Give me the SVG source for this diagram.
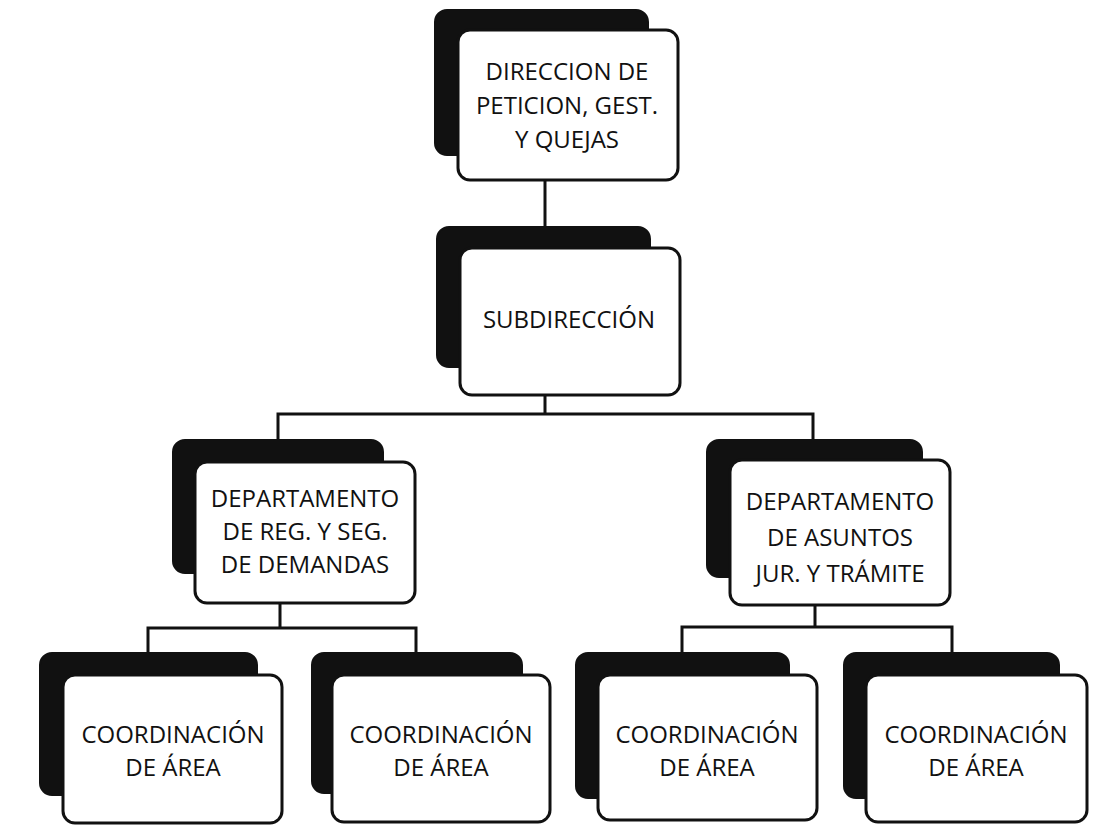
<svg xmlns="http://www.w3.org/2000/svg" width="1113" height="826" viewBox="0 0 1113 826">
<style>
.back{fill:#111;stroke:#111;stroke-width:2}
.front{fill:#fff;stroke:#111;stroke-width:3}
.lbl{font-family:"Open Sans","Liberation Sans",sans-serif;font-size:24px;fill:#111;text-anchor:middle}
.conn{fill:none;stroke:#111;stroke-width:3}
</style>
<rect width="1113" height="826" fill="#fff"/>
<g id="connectors">
<path class="conn" d="M545,180 V248"/>
<path class="conn" d="M545,395 V414 M278,440 V414 H813 V440"/>
<path class="conn" d="M280,603 V628 M148,653 V628 H416 V653"/>
<path class="conn" d="M815,605 V627 M682,653 V627 H952 V653"/>
</g>
<g id="n-direccion">
<rect class="back" x="435" y="10" width="213" height="145" rx="12"/>
<rect class="front" x="458" y="30" width="220" height="150" rx="12"/>
<text class="lbl" x="567" y="80">DIRECCION DE</text>
<text class="lbl" x="567" y="114">PETICION, GEST.</text>
<text class="lbl" x="567" y="148">Y QUEJAS</text>
</g>
<g id="n-subdireccion">
<rect class="back" x="437" y="227" width="213" height="140" rx="12"/>
<rect class="front" x="460" y="248" width="220" height="147" rx="12"/>
<text class="lbl" x="569" y="328">SUBDIRECCIÓN</text>
</g>
<g id="n-dep-reg">
<rect class="back" x="173" y="440" width="210" height="133" rx="12"/>
<rect class="front" x="195" y="462" width="220" height="141" rx="12"/>
<text class="lbl" x="305" y="507">DEPARTAMENTO</text>
<text class="lbl" x="305" y="540">DE REG. Y SEG.</text>
<text class="lbl" x="305" y="573">DE DEMANDAS</text>
</g>
<g id="n-dep-jur">
<rect class="back" x="707" y="440" width="215" height="137" rx="12"/>
<rect class="front" x="730" y="460" width="220" height="145" rx="12"/>
<text class="lbl" x="840" y="510">DEPARTAMENTO</text>
<text class="lbl" x="840" y="546">DE ASUNTOS</text>
<text class="lbl" x="840" y="582">JUR. Y TRÁMITE</text>
</g>
<g id="n-coord-1">
<rect class="back" x="40" y="653" width="217" height="142" rx="12"/>
<rect class="front" x="63" y="675" width="219" height="148" rx="12"/>
<text class="lbl" x="173" y="743">COORDINACIÓN</text>
<text class="lbl" x="173" y="776">DE ÁREA</text>
</g>
<g id="n-coord-2">
<rect class="back" x="312" y="653" width="210" height="140" rx="12"/>
<rect class="front" x="332" y="675" width="218" height="147" rx="12"/>
<text class="lbl" x="441" y="743">COORDINACIÓN</text>
<text class="lbl" x="441" y="776">DE ÁREA</text>
</g>
<g id="n-coord-3">
<rect class="back" x="576" y="653" width="213" height="145" rx="12"/>
<rect class="front" x="598" y="675" width="219" height="145" rx="12"/>
<text class="lbl" x="707" y="743">COORDINACIÓN</text>
<text class="lbl" x="707" y="776">DE ÁREA</text>
</g>
<g id="n-coord-4">
<rect class="back" x="844" y="653" width="215" height="145" rx="12"/>
<rect class="front" x="866" y="675" width="221" height="147" rx="12"/>
<text class="lbl" x="976" y="743">COORDINACIÓN</text>
<text class="lbl" x="976" y="776">DE ÁREA</text>
</g>
</svg>
